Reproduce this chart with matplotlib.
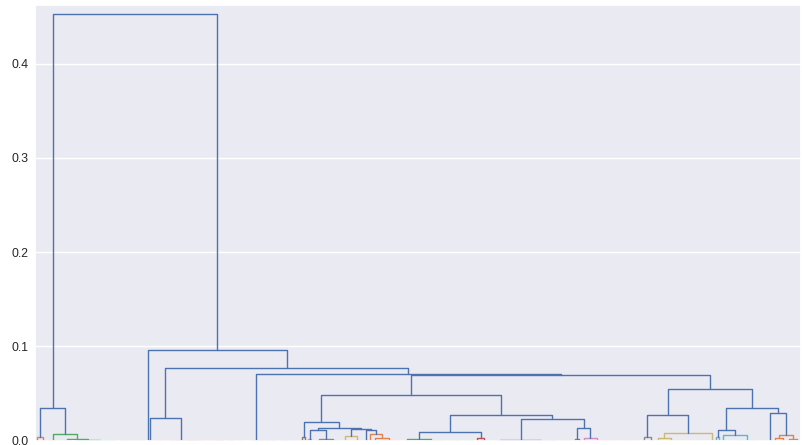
import matplotlib.pyplot as plt
import seaborn as sns

# Merge tree: [height, left, right]; an int n stands for n identical
# points that join at distance 0.
orange_left = [0.0040, 2, 4]
green_left = [0.0066, 7, [0.0013, 6, [0.0006, 4, [0, 3, 30]]]]
red_left = [0, 7, 40]
purple_left = [0, 2, [0, 3, 23]]
brown_mid = [0.0040, 1, 2]
pink_mid = [0.0015, 1, 2]
gray_mid = [0.0012, 7, 7]
yellow_mid = [0.0045, 5, 6]
cyan_mid = 3
orange_mid = [0.0066, 1, [0.0030, 5, [0, 3, 9]]]
green_mid = [0.0013, 3, [0, 5, 27]]
red_mid = [0.0030, 2, 6]
purple_mid = [0.0005, 10, 31]
brown_right = [0.0015, 2, 2]
pink_right = [0.0030, 3, [0, 2, [0, 3, 22]]]
gray_right = [0.0035, 3, 4]
yellow_right = [0.0076, [0.0025, 3, [0, 2, [0, 3, 19]]], 3]
cyan_right_a = [0.0035, 1, 2]
cyan_right_b = [0.0060, 3, 21]
orange_right = [0.0055, [0.0030, 4, 4], [0.0020, 3, 4]]

tree = [0.4522,
        [0.0342, orange_left, green_left],
        [0.0960, 1,
         [0.0766,
          [0.0236, 1, red_left],
          [0.0703, purple_left,
           [0.0700,
            [0.0483,
             [0.0199, brown_mid,
              [0.0129,
               [0.0111, pink_mid, gray_mid],
               [0.0119, yellow_mid, [0.0111, cyan_mid, orange_mid]]]],
             [0.0271,
              [0.0093, green_mid, red_mid],
              [0.0225, purple_mid, [0.0129, brown_right, pink_right]]]],
            [0.0543,
             [0.0271, gray_right, yellow_right],
             [0.0342,
              [0.0111, cyan_right_a, cyan_right_b],
              [0.0295, 1, orange_right]]]]]]]]

color_threshold = 0.0085
link_color = "#4C72B0"
cluster_colors = ["#DD8452", "#55A868", "#C44E52", "#8172B3", "#937860",
                  "#DA8BC3", "#8C8C8C", "#CCB974", "#64B5CD",
                  "#DD8452", "#55A868", "#C44E52", "#8172B3", "#937860",
                  "#DA8BC3", "#8C8C8C", "#CCB974", "#64B5CD", "#64B5CD",
                  "#DD8452"]

sns.set_theme(style="darkgrid")
plt.rcParams["font.family"] = ["Liberation Sans", "DejaVu Sans"]

fig = plt.figure(figsize=(8.02, 4.45), dpi=100)
ax = fig.add_axes([35 / 802, 4.5 / 445, 766 / 802, 435.5 / 445])

state = {"leaf": 0, "cluster": 0}


def draw(node, color=None):
    if isinstance(node, int):
        if node == 1:
            x = 5 + 10 * state["leaf"]
            state["leaf"] += 1
            return x, 0.0
        node = [0.0, node // 2, node - node // 2]
    h, left, right = node
    if color is None and h < color_threshold:
        color = cluster_colors[state["cluster"]]
        state["cluster"] += 1
    xl, hl = draw(left, color)
    xr, hr = draw(right, color)
    ax.plot([xl, xl, xr, xr], [hl, h, h, hr], color=color or link_color, lw=1.0)
    return (xl + xr) / 2, h


draw(tree)
n_leaves = state["leaf"]

ax.set_xlim(0, 10 * n_leaves)
ax.set_ylim(0, 0.4621)
ax.set_xticks([])
ax.set_yticks([0.0, 0.1, 0.2, 0.3, 0.4])
ax.tick_params(axis="y", labelsize=8.8, length=0, pad=4.5, labelcolor="#262626")

fig.savefig("out.png", dpi=100)
